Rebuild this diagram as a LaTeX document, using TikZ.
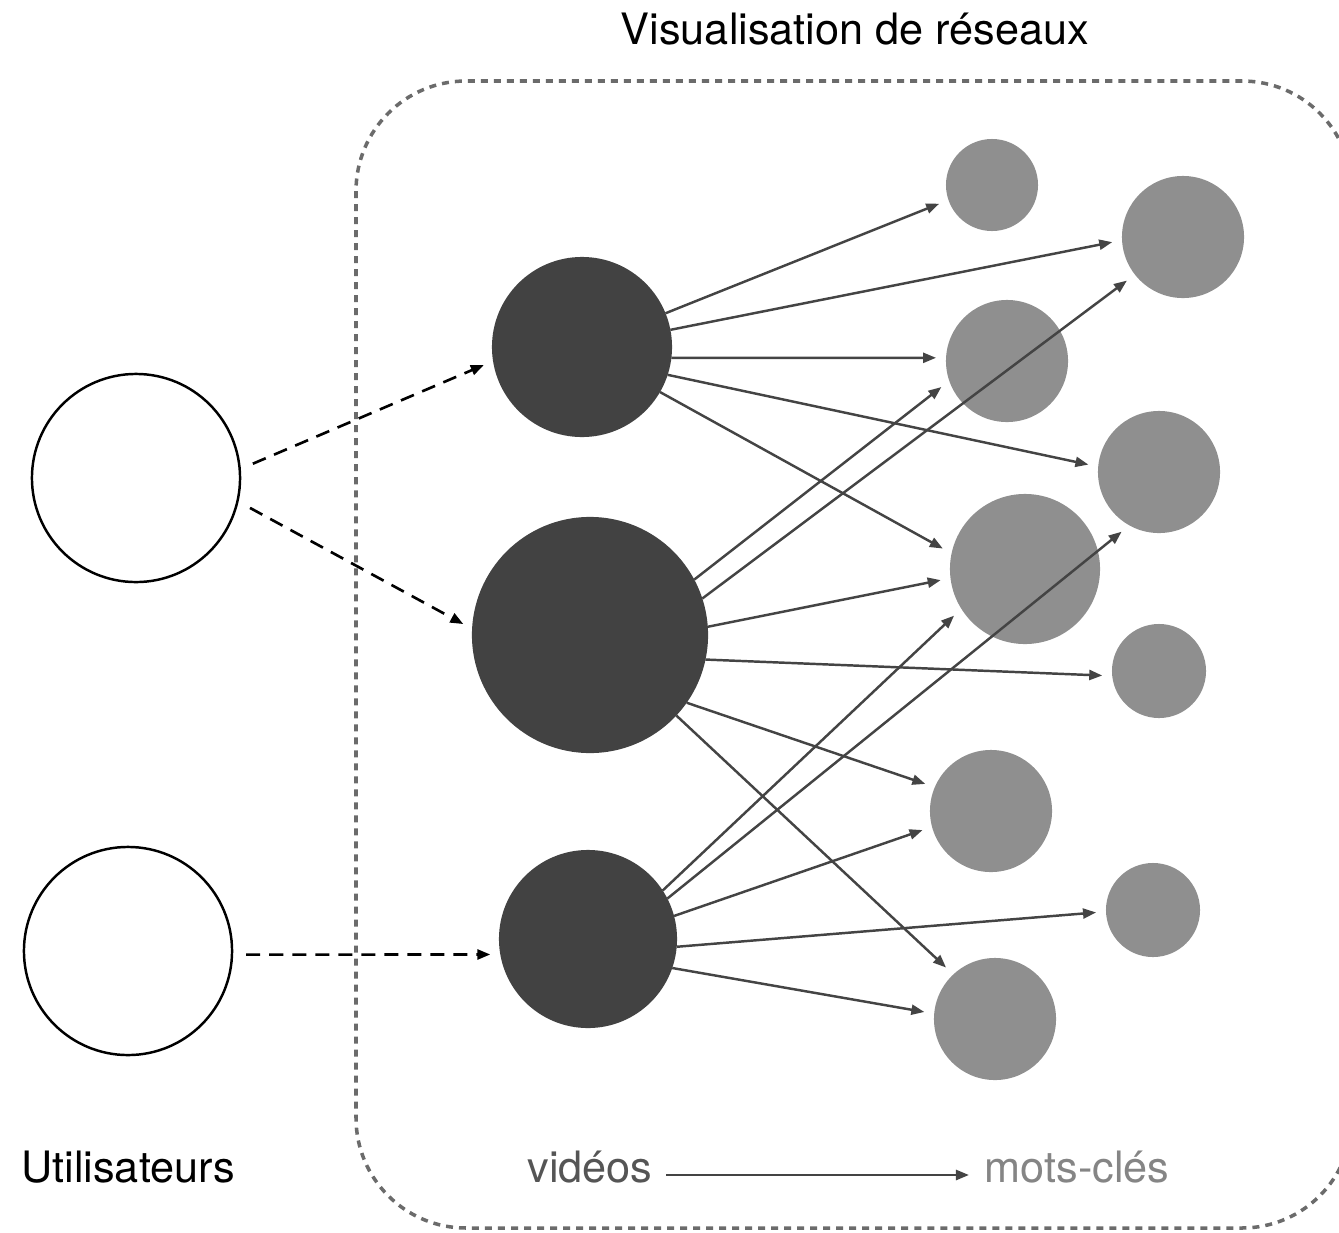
\documentclass[tikz,border=0pt]{standalone}
\usepackage{fontspec}
\setmainfont{TeX Gyre Heros}
\usepackage{xcolor}
\usepackage{tikz}
\usetikzlibrary{arrows.meta}
\definecolor{videoColor}{HTML}{424242}
\definecolor{keywordColor}{HTML}{8F8F8F}
\definecolor{edgeColor}{HTML}{444444}
\definecolor{boxColor}{HTML}{6B6B6B}
\definecolor{videoText}{HTML}{555555}
\definecolor{keywordText}{HTML}{858585}

\begin{document}
\begin{tikzpicture}[x=0.01cm, y=-0.01cm,
    user/.style={circle, draw=black, line width=0.7pt, fill=white, inner sep=0pt, minimum size=2.08cm},
    video/.style={circle, fill=videoColor, inner sep=0pt, outer sep=0pt},
    keyword/.style={circle, fill=keywordColor, inner sep=0pt, outer sep=0pt},
    edge/.style={edgeColor, line width=0.7pt, -{Triangle[length=0.13cm, width=0.1cm]}, shorten >=0.1cm},
    userEdge/.style={black, line width=0.75pt, dash pattern=on 0.14cm off 0.09cm, -{Triangle[length=0.13cm, width=0.1cm]}, shorten <=0.13cm, shorten >=0.1cm},
    label/.style={font=\fontsize{12.3}{14}\selectfont, inner sep=0pt, anchor=base}]
    \useasboundingbox (0,0) rectangle (1339,1233);
    % dashed frame
    \draw[boxColor, line width=1pt, dash pattern=on 0.07cm off 0.06cm, rounded corners=1.1cm]
        (356,81) rectangle (1352,1228);
    % users
    \node[user] (u1) at (136,478) {};
    \node[user] (u2) at (128,951) {};
    % videos
    \node[video, minimum size=1.8cm] (v1) at (582,347) {};
    \node[video, minimum size=2.36cm] (v2) at (590,635) {};
    \node[video, minimum size=1.78cm] (v3) at (588,939) {};
    % keywords
    \node[keyword, minimum size=0.92cm] (k1) at (992,185) {};
    \node[keyword, minimum size=1.22cm] (k2) at (1183,237) {};
    \node[keyword, minimum size=1.22cm] (k3) at (1007,361) {};
    \node[keyword, minimum size=1.22cm] (k4) at (1159,472) {};
    \node[keyword, minimum size=1.5cm] (k5) at (1025,569) {};
    \node[keyword, minimum size=0.94cm] (k6) at (1159,671) {};
    \node[keyword, minimum size=1.22cm] (k7) at (991,811) {};
    \node[keyword, minimum size=0.94cm] (k8) at (1153,910) {};
    \node[keyword, minimum size=1.22cm] (k9) at (995,1019) {};
    % users -> videos
    \draw[userEdge] (u1.5) -- (v1.189);
    \draw[userEdge] (u1.347) -- (v2.177);
    \draw[userEdge] (u2.358) -- (v3.190);
    % videos -> keywords
    \draw[edge] (v1.22) -- (k1.199);
    \draw[edge] (v1.11) -- (k2.183);
    \draw[edge] (v1.353) -- (k3.177);
    \draw[edge] (v1.342) -- (k4.175);
    \draw[edge] (v1.330) -- (k5.168);
    \draw[edge] (v2.28) -- (k3.199);
    \draw[edge] (v2.18) -- (k2.218);
    \draw[edge] (v2.4) -- (k5.187);
    \draw[edge] (v2.348) -- (k6.186);
    \draw[edge] (v2.325) -- (k7.157);
    \draw[edge] (v2.317) -- (k9.133);
    \draw[edge] (v3.33) -- (k5.212);
    \draw[edge] (v3.27) -- (k4.241);
    \draw[edge] (v3.15) -- (k7.195);
    \draw[edge] (v3.355) -- (k8.182);
    \draw[edge] (v3.341) -- (k9.175);
    % labels
    \node[label] (title) at (855,44) {Visualisation de réseaux};
    \node[label] (users) at (128,1182) {Utilisateurs};
    \node[label, text=videoText] (vid) at (590,1182) {vidéos};
    \node[label, text=keywordText] (kw) at (1077,1182) {mots-clés};
    \draw[edge, shorten >=0.15cm, shorten <=0.13cm] ([yshift=0.07cm]vid.base east) -- ([yshift=0.07cm]kw.base west);
\end{tikzpicture}
\end{document}
